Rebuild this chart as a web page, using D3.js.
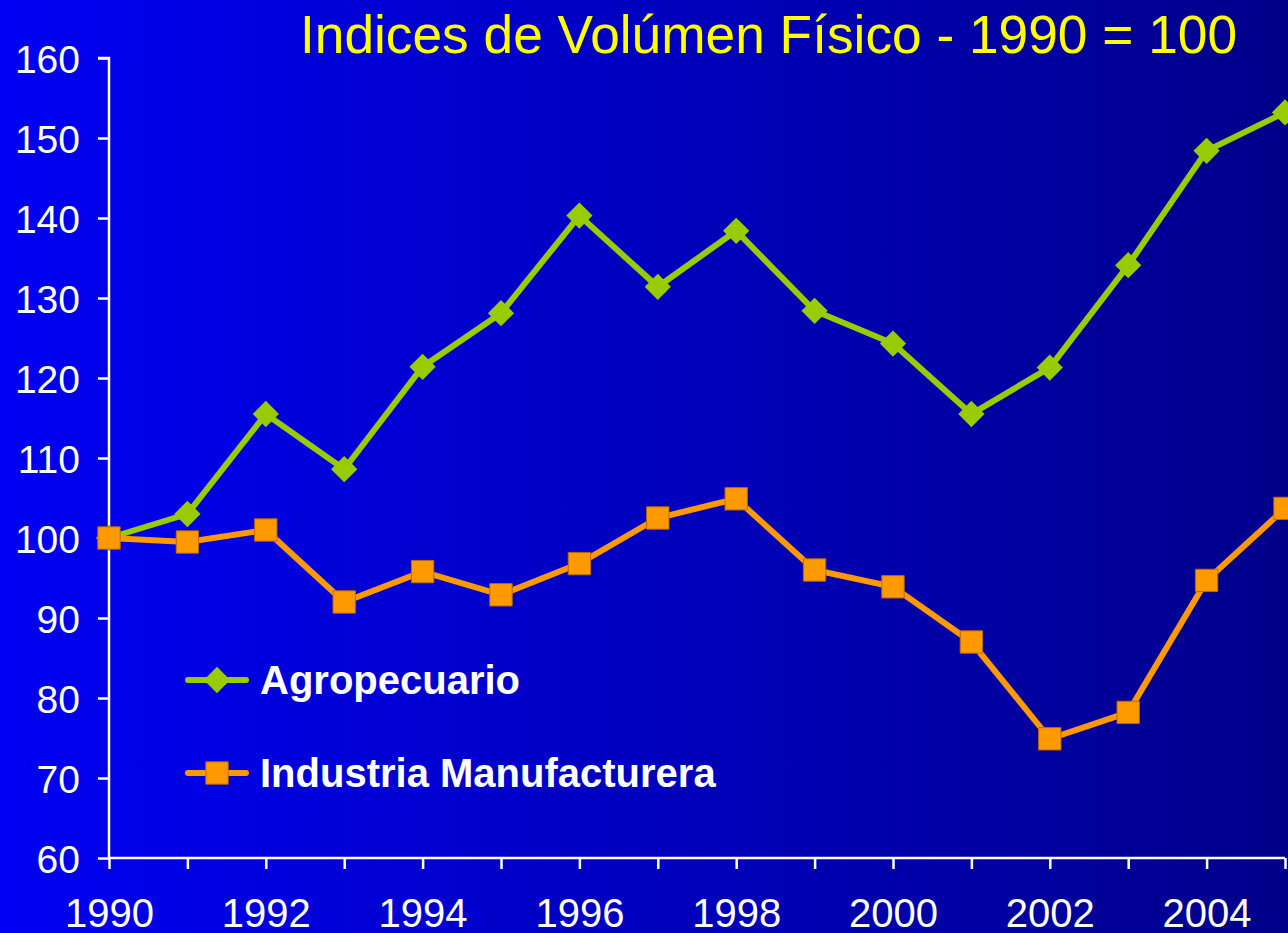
<!DOCTYPE html>
<html>
<head>
<meta charset="utf-8">
<style>
  body { margin: 0; background: #000; }
  svg { display: block; }
  text { font-family: "Liberation Sans", Arial, sans-serif; }
</style>
</head>
<body>
<svg width="1288" height="933"></svg>
<script src="https://d3js.org/d3.v7.min.js"></script>
<script>
// data
const years = d3.range(1990, 2006)
const agropecuario = [100, 103, 115.5, 108.6, 121.4, 128.1, 140.3, 131.4, 138.4, 128.4, 124.3, 115.5, 121.3, 134.1, 148.4, 153.2]
const industria = [100, 99.5, 101, 92, 95.8, 92.9, 96.8, 102.5, 104.9, 96, 93.9, 87, 74.9, 78.2, 94.7, 103.7]
const yTicks = [60, 70, 80, 90, 100, 110, 120, 130, 140, 150, 160]
const xLabels = [1990, 1992, 1994, 1996, 1998, 2000, 2002, 2004]
const title = "Indices de Volúmen Físico - 1990 = 100"
const seriesNames = ["Agropecuario", "Industria Manufacturera"]

const svg = d3.select("svg")
const W = 1288, H = 933

// background gradient, bright blue to navy
const defs = svg.append("defs")
const grad = defs.append("linearGradient").attr("id", "bg")
  .attr("x1", 0).attr("x2", 1).attr("y1", 0).attr("y2", 0)
grad.append("stop").attr("offset", "0%").attr("stop-color", "#0000f4")
grad.append("stop").attr("offset", "100%").attr("stop-color", "#00008a")
svg.append("rect").attr("width", W).attr("height", H).attr("fill", "url(#bg)")

const x = d3.scaleLinear().domain([1990, 2005]).range([109, 1285])
const y = d3.scaleLinear().domain([60, 160]).range([858, 58])

// title (narrow face squeezed into the slide's width)
svg.append("text")
  .attr("x", 300).attr("y", 53)
  .attr("textLength", 937).attr("lengthAdjust", "spacingAndGlyphs")
  .attr("fill", "#ffff00")
  .style("font-family", "'Liberation Sans Narrow', 'Liberation Sans', sans-serif")
  .style("font-size", "53px")
  .text(title)

// y axis
const yAxis = svg.append("g")
  .attr("transform", `translate(${x(1990)},0)`)
  .call(d3.axisLeft(y).tickValues(yTicks).tickSize(11).tickPadding(18))
// x axis
const xAxis = svg.append("g")
  .attr("transform", `translate(0,${y(60)})`)
  .call(d3.axisBottom(x).tickValues(years).tickSize(11).tickPadding(30)
    .tickFormat(d => xLabels.includes(d) ? d : ""))

for (const ax of [yAxis, xAxis]) {
  ax.select(".domain").attr("stroke", "#fff").attr("stroke-width", 2.5)
  ax.selectAll(".tick line").attr("stroke", "#fff").attr("stroke-width", 2.5)
  ax.selectAll(".tick text").attr("fill", "#fff")
    .style("font-family", "'Liberation Sans', Arial, sans-serif")
}
yAxis.selectAll(".tick text").attr("dy", "0.36em").style("font-size", "39px")
xAxis.selectAll(".tick text").style("font-size", "40px")
yAxis.select(".domain").attr("d", `M0,${y(60)}V${y(160)}H-11`)
xAxis.select(".domain").attr("d", `M${x(1990)},0H${x(2005)}`)

const line = d3.line().x((d, i) => x(years[i])).y(d => y(d))

const green = "#99cc00", orange = "#ff9900"
const diamond = d3.symbol().type(d3.symbolDiamond2).size(440)
const square = d3.symbol().type(d3.symbolSquare).size(500)

// agropecuario
svg.append("path").datum(agropecuario).attr("d", line)
  .attr("fill", "none").attr("stroke", green).attr("stroke-width", 6)
svg.selectAll(".agro").data(agropecuario).join("path").attr("class", "agro")
  .attr("transform", (d, i) => `translate(${x(years[i])},${y(d)})`)
  .attr("d", diamond).attr("fill", green)

// industria
svg.append("path").datum(industria).attr("d", line)
  .attr("fill", "none").attr("stroke", orange).attr("stroke-width", 6)
svg.selectAll(".ind").data(industria).join("path").attr("class", "ind")
  .attr("transform", (d, i) => `translate(${x(years[i])},${y(d)})`)
  .attr("d", square).attr("fill", orange).attr("stroke", "#b86a00").attr("stroke-width", 1)

// legend
const legend = [
  { name: seriesNames[0], color: green, sym: diamond, y: 680 },
  { name: seriesNames[1], color: orange, sym: square, y: 773 }
]
legend.forEach(l => {
  const g = svg.append("g").attr("transform", `translate(0,${l.y})`)
  g.append("line").attr("x1", 188).attr("x2", 246).attr("stroke", l.color)
    .attr("stroke-width", 6).attr("stroke-linecap", "round")
  g.append("path").attr("transform", "translate(217,0)").attr("d", l.sym).attr("fill", l.color)
    .attr("stroke", l.sym === square ? "#b86a00" : "none")
  g.append("text").attr("x", 260).attr("y", 0).attr("dy", "0.36em")
    .attr("fill", "#fff").style("font-weight", "bold").style("font-size", "40px")
    .text(l.name)
})
</script>
</body>
</html>
